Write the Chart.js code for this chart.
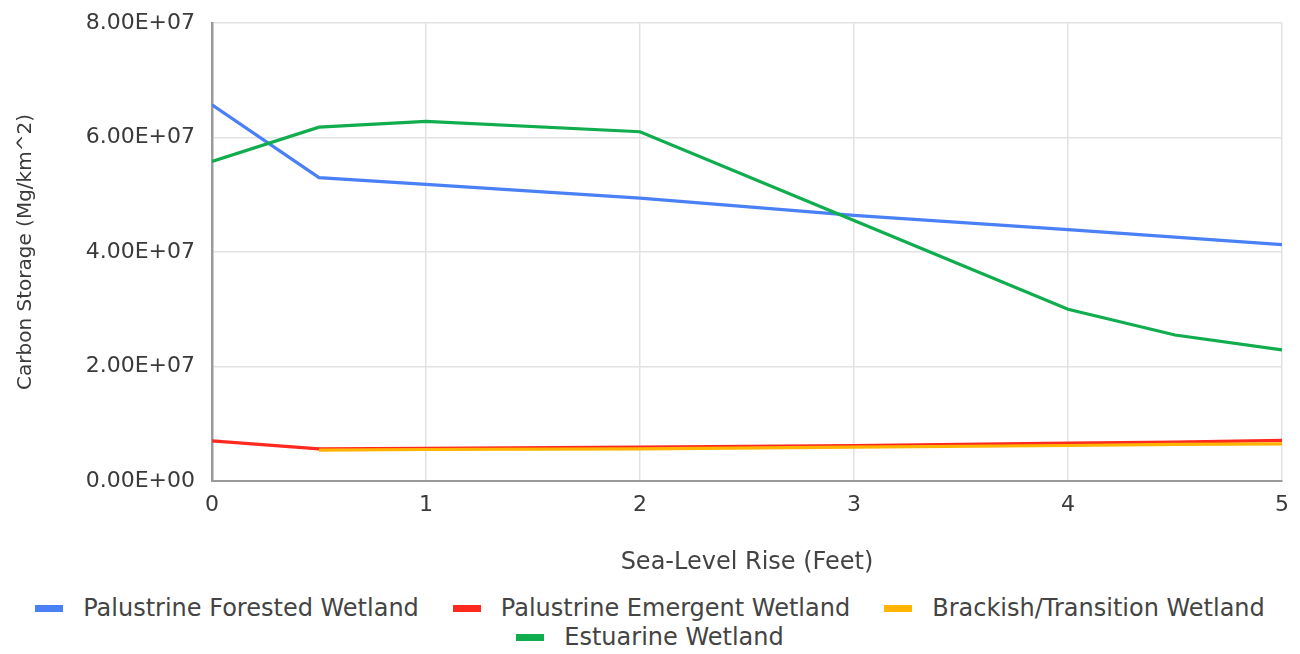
<!DOCTYPE html>
<html>
<head>
<meta charset="utf-8">
<script src="https://cdn.jsdelivr.net/npm/chart.js@4/dist/chart.umd.min.js"></script>
<style>
  body { margin: 0; background: #fff; }
  #wrap { position: relative; width: 1300px; height: 654px; }
  #legend {
    position: absolute; left: 0; top: 594px; width: 1300px;
    display: flex; flex-wrap: wrap; justify-content: center;
    column-gap: 34px; row-gap: 0;
    font-family: "DejaVu Sans", sans-serif; font-size: 24px; line-height: 29px; color: #444;
    padding: 0 25px; box-sizing: border-box;
  }
  #legend .item { display: flex; align-items: center; white-space: nowrap; }
  #legend .box { width: 28px; height: 7px; margin-right: 20px; }
</style>
</head>
<body>
<div id="wrap">
  <canvas id="chart" width="1300" height="590"></canvas>
  <div id="legend"></div>
</div>
<script>
// Datos
const seaLevelRise = [0, 0.5, 1, 2, 3, 4, 4.5, 5];
const forested = [6.57e7, 5.30e7, 5.18e7, 4.94e7, 4.64e7, 4.39e7, 4.26e7, 4.13e7];
const emergent = [0.70e7, 0.56e7, 0.57e7, 0.59e7, 0.62e7, 0.66e7, 0.68e7, 0.71e7];
const brackish = [null, 0.54e7, 0.55e7, 0.56e7, 0.59e7, 0.62e7, 0.64e7, 0.65e7];
const estuarine = [5.58e7, 6.18e7, 6.28e7, 6.10e7, 4.55e7, 3.00e7, 2.55e7, 2.29e7];
const seriesNames = ['Palustrine Forested Wetland', 'Palustrine Emergent Wetland', 'Brackish/Transition Wetland', 'Estuarine Wetland'];
const seriesColors = ['#4a80f5', '#ff2a1f', '#ffb400', '#10ad4f'];
const yTickLabels = ['0.00E+00', '2.00E+07', '4.00E+07', '6.00E+07', '8.00E+07'];
const xTickLabels = ['0', '1', '2', '3', '4', '5'];

const toPoints = ys => seaLevelRise.map((x, i) => ({ x: x, y: ys[i] }));
const allSeries = [forested, emergent, brackish, estuarine];
const drawOrder = [4, 3, 2, 1];

const tickFont = { family: 'DejaVu Sans', size: 22 };

new Chart(document.getElementById('chart').getContext('2d'), {
    type: 'line',
    data: {
        datasets: allSeries.map((ys, i) => ({
            label: seriesNames[i],
            data: toPoints(ys),
            borderColor: seriesColors[i],
            backgroundColor: seriesColors[i],
            borderWidth: 3.2,
            pointRadius: 0,
            tension: 0,
            order: drawOrder[i],
        })),
    },
    options: {
        responsive: false,
        animation: false,
        layout: { padding: { top: 23, right: 18, left: 0, bottom: 0 } },
        plugins: { legend: { display: false }, tooltip: { enabled: false } },
        scales: {
            x: {
                type: 'linear', min: 0, max: 5,
                grid: { color: '#e2e2e2', lineWidth: 1.5, drawTicks: false },
                border: { color: '#9a9a9a', width: 2 },
                ticks: {
                    stepSize: 1, padding: 11, color: '#3a3a3a', font: tickFont,
                    callback: (v, i) => xTickLabels[i],
                },
                title: {
                    display: true, text: 'Sea-Level Rise (Feet)', color: '#444',
                    font: { family: 'DejaVu Sans', size: 24 },
                    padding: { top: 0, bottom: 13 },
                },
                afterFit: s => { s.height = 590 - 481; },
            },
            y: {
                min: 0, max: 8e7,
                grid: { color: '#e2e2e2', lineWidth: 1.5, drawTicks: false },
                border: { color: '#9a9a9a', width: 2.5 },
                ticks: {
                    stepSize: 2e7, padding: 17, color: '#3a3a3a', font: tickFont,
                    callback: (v, i) => yTickLabels[i],
                },
                title: {
                    display: true, text: 'Carbon Storage (Mg/km^2)', color: '#3a3a3a',
                    font: { family: 'DejaVu Sans', size: 20 },
                    padding: { top: 14, bottom: 0 },
                },
                afterFit: s => { s.width = 212; s.paddingTop = 0; s.paddingBottom = 0; },
            },
        },
    },
});

// Leyenda
const legend = document.getElementById('legend');
seriesNames.forEach((name, i) => {
    const item = document.createElement('div');
    item.className = 'item';
    item.innerHTML = '<span class="box" style="background:' + seriesColors[i] + '"></span><span>' + name + '</span>';
    legend.appendChild(item);
});
</script>
</body>
</html>
